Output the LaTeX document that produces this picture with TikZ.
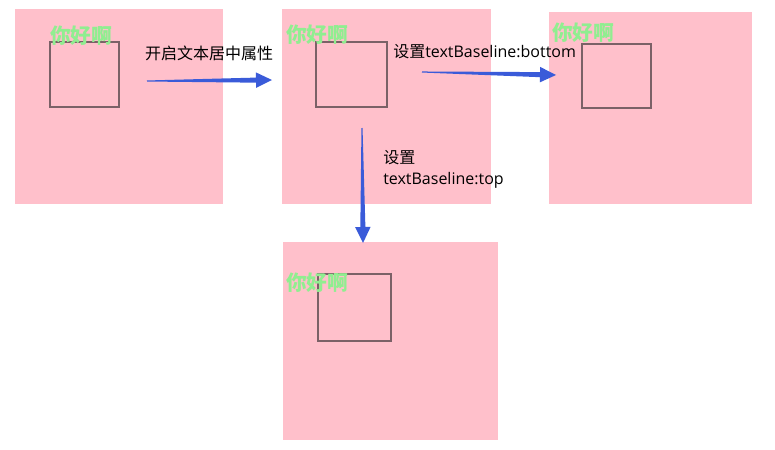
\documentclass[tikz,border=0pt]{standalone}
\usepackage{fontspec}
\setmainfont{Open Sans}
\newfontfamily\cjk{Noto Sans CJK SC}
\usetikzlibrary{calc}
\definecolor{boxpink}{HTML}{FFC0CB}
\definecolor{hellogreen}{HTML}{90EE90}
\definecolor{framegray}{HTML}{7B6167}
\definecolor{arrowblue}{HTML}{3A5BD9}
\tikzset{
  hello/.style={anchor=west, inner sep=0pt, text=hellogreen,
    font=\cjk\bfseries\fontsize{15.5}{18}\selectfont},
  note/.style={inner sep=0pt, font=\fontsize{12}{15.75}\selectfont},
  frame/.style={draw=framegray, line width=0.9pt},
}
% tapered arrow from #1 to #2
\newcommand{\taperarrow}[2]{%
  \coordinate (#1-h) at ($(#2)!12pt!(#1)$);
  \fill[arrowblue] ($(#1)!0.4pt!90:(#2)$) -- ($(#1-h)!1.9pt!90:(#2)$)
    -- ($(#1-h)!5.8pt!90:(#2)$) -- (#2) -- ($(#1-h)!5.8pt!-90:(#2)$)
    -- ($(#1-h)!1.9pt!-90:(#2)$) -- ($(#1)!0.4pt!-90:(#2)$) -- cycle;
}

\begin{document}
\begin{tikzpicture}[x=0.75pt, y=-0.75pt]
\useasboundingbox (0,0) rectangle (775,450);

% ---------------- Pink canvases ----------------
\foreach \xa/\ya/\xb/\yb in {15/9/223/204, 282/9/491/204,
                             549/12/752/204, 283/242/498/440}{
  \fill[boxpink] (\xa,\ya) rectangle (\xb,\yb);
}

% ---------------- Squares ----------------
\foreach \xa/\ya/\xb/\yb in {50/42/119/107, 316/42/387/107,
                             582/44/651/108, 318/274/391/341}{
  \draw[frame] (\xa,\ya) rectangle (\xb,\yb);
}

% ---------------- Texts ----------------
\node[hello] (hello1) at (50,36) {你好啊};
\node[hello] (hello2) at (286,35) {你好啊};
\node[hello] (hello3) at (552,32.5) {你好啊};
\node[hello] (hello4) at (286,283) {你好啊};

% ---------------- Arrows ----------------
\coordinate (s1) at (147,81);
\coordinate (e1) at (272,80);
\coordinate (s2) at (422,72);
\coordinate (e2) at (556,75);
\coordinate (s3) at (362,128);
\coordinate (e3) at (363,243);
\taperarrow{s1}{e1}
\taperarrow{s2}{e2}
\taperarrow{s3}{e3}

% ---------------- Labels ----------------
\node[note] (center) at (209,53.5) {\cjk 开启文本居中属性};
\node[note, anchor=west] (bottom) at (393,52) {{\cjk 设置}textBaseline:bottom};
\node[note, anchor=north west, align=left] (top) at (383,150)
  {{\cjk 设置}\\textBaseline:top};

\end{tikzpicture}
\end{document}
